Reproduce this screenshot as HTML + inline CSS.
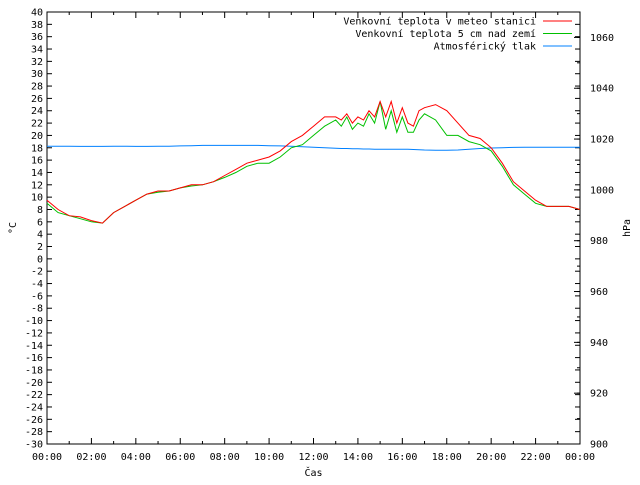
<!DOCTYPE html>
<html><head><meta charset="utf-8"><style>
body{margin:0;background:#fff;}
text{font-family:"DejaVu Sans Mono","Liberation Mono",monospace;font-size:10px;fill:#000;}
</style></head><body>
<svg id="chart" width="640" height="480" xmlns="http://www.w3.org/2000/svg">
<rect x="0" y="0" width="640" height="480" fill="#fff"/>
<g id="axes"></g>
<g id="series"></g>
<g id="legend"></g>
</svg>
<script>
const hours=[0,0.5,1,1.5,2,2.5,3,3.5,4,4.5,5,5.5,6,6.5,7,7.5,8,8.5,9,9.5,10,10.5,11,11.5,12,12.5,13,13.25,13.5,13.75,14,14.25,14.5,14.75,15,15.25,15.5,15.75,16,16.25,16.5,16.75,17,17.5,18,18.5,19,19.5,20,20.5,21,21.5,22,22.5,23,23.5,24];
const redTemp=[9.5,8,7,6.8,6.2,5.8,7.5,8.5,9.5,10.5,11,11,11.5,12,12,12.5,13.5,14.5,15.5,16,16.5,17.5,19,20,21.5,23,23,22.5,23.5,22,23,22.5,24,23,25.5,23,25.5,22,24.5,22,21.5,24,24.5,25,24,22,20,19.5,18,15.5,12.5,11,9.5,8.5,8.5,8.5,8];
const greenTemp=[9,7.5,7,6.5,6,5.8,7.5,8.5,9.5,10.5,10.8,11,11.5,11.8,12,12.5,13.2,14,15,15.5,15.5,16.5,18,18.5,20,21.5,22.5,21.5,23,21,22,21.5,23.5,22,25.5,21,24,20.5,23,20.5,20.5,22.5,23.5,22.5,20,20,19,18.5,17.5,15,12,10.5,9,8.5,8.5,8.5,8];
const pressure=[1017.2,1017.2,1017.2,1017.1,1017.1,1017.1,1017.2,1017.2,1017.1,1017.1,1017.2,1017.2,1017.3,1017.4,1017.5,1017.5,1017.5,1017.5,1017.5,1017.5,1017.4,1017.3,1017.2,1017.0,1016.8,1016.6,1016.4,1016.3,1016.3,1016.2,1016.2,1016.1,1016.1,1016.0,1016.0,1016.0,1016.0,1016.0,1016.0,1016.0,1015.9,1015.8,1015.7,1015.6,1015.6,1015.7,1016.0,1016.3,1016.5,1016.6,1016.7,1016.8,1016.8,1016.8,1016.8,1016.8,1016.8];
const leftTicks=[-30,-28,-26,-24,-22,-20,-18,-16,-14,-12,-10,-8,-6,-4,-2,0,2,4,6,8,10,12,14,16,18,20,22,24,26,28,30,32,34,36,38,40];
const rightTicks=[900,920,940,960,980,1000,1020,1040,1060];
const xLabels=["00:00","02:00","04:00","06:00","08:00","10:00","12:00","14:00","16:00","18:00","20:00","22:00","00:00"];
const L=47,R=580,T=12,B=444;
const xs=h=>L+(R-L)*h/24;
const yT=v=>B-(v+30)*(B-T)/70;
const yP=v=>B-(v-900)*(B-T)/170;
const NS="http://www.w3.org/2000/svg";
function mk(tag,attrs,parent){const e=document.createElementNS(NS,tag);for(const k in attrs)e.setAttribute(k,attrs[k]);parent.appendChild(e);return e;}
const ax=document.getElementById('axes');
const frame=mk('rect',{x:L,y:T,width:R-L,height:B-T,fill:'none',stroke:'#000','stroke-width':1},ax);


leftTicks.forEach(v=>{
  const y=yT(v);
  mk('line',{x1:L,x2:L+5,y1:y,y2:y,stroke:'#000'},ax);
  mk('line',{x1:R,x2:R-5,y1:y,y2:y,stroke:'#000'},ax);
  const t=mk('text',{x:L-4,y:y+3.5,'text-anchor':'end'},ax);t.textContent=v;
  
  
});
for(let v=900;v<=1070;v+=10){const y=yP(v);mk('line',{x1:R,x2:R-3,y1:y,y2:y,stroke:'#000'},ax);}
rightTicks.forEach(v=>{
  const y=yP(v);
  mk('line',{x1:R,x2:R-6,y1:y,y2:y,stroke:'#000'},ax);
  const t=mk('text',{x:R+10,y:y+3.5},ax);t.textContent=v;
  
  
});
for(let h=0;h<=24;h++){const x=xs(h);const len=h%2?3:6;
  mk('line',{x1:x,x2:x,y1:B,y2:B-len,stroke:'#000'},ax);
  mk('line',{x1:x,x2:x,y1:T,y2:T+len,stroke:'#000'},ax);}
xLabels.forEach((s,i)=>{
  const t=mk('text',{x:xs(i*2),y:B+16,'text-anchor':'middle'},ax);t.textContent=s;
  
  
});
let t=mk('text',{x:(L+R)/2,y:476,'text-anchor':'middle'},ax);t.textContent='Čas';


t=mk('text',{x:16,y:228,'text-anchor':'middle',transform:'rotate(-90 16 228)'},ax);t.textContent='°C';


t=mk('text',{x:630,y:228,'text-anchor':'middle',transform:'rotate(-90 630 228)'},ax);t.textContent='hPa';


const sg=document.getElementById('series');
function line(vals,yf,color,name){
  const p=mk('polyline',{points:vals.map((v,i)=>xs(hours[i]).toFixed(1)+','+yf(v).toFixed(1)).join(' '),fill:'none',stroke:color,'stroke-width':1},sg);
  
  
}
line(pressure,yP,'#0080ff','pressure-line');
line(greenTemp,yT,'#00c000','ground-temp-line');
line(redTemp,yT,'#ff0000','station-temp-line');
const lg=document.getElementById('legend');
[["Venkovní teplota v meteo stanici","#ff0000"],["Venkovní teplota 5 cm nad zemí","#00c000"],["Atmosférický tlak","#0080ff"]].forEach((d,i)=>{
  const y=21+i*12.5;
  const tx=mk('text',{x:536,y:y+3.5,'text-anchor':'end'},lg);tx.textContent=d[0];
  
  
  mk('line',{x1:543,x2:572,y1:y,y2:y,stroke:d[1]},lg);
});
</script>
</body></html>
